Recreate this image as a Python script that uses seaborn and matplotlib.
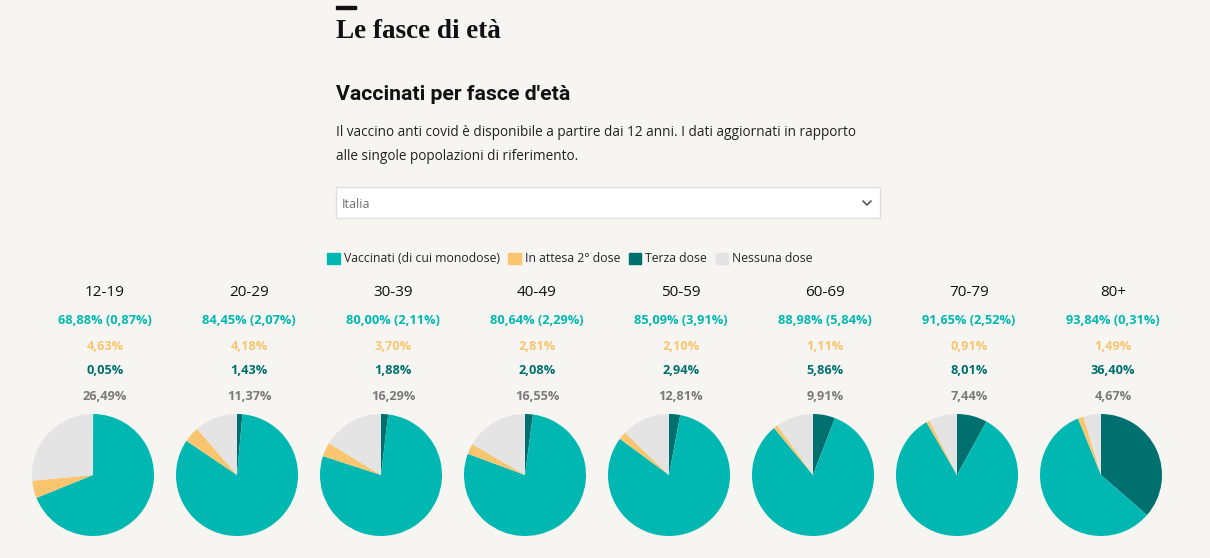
import matplotlib
matplotlib.use("Agg")
import matplotlib.pyplot as plt
import seaborn as sns
from matplotlib.patches import Rectangle, Patch
from matplotlib.lines import Line2D

# dati
fasce = ['12-19', '20-29', '30-39', '40-49', '50-59', '60-69', '70-79', '80+']
vaccinati = [68.88, 84.45, 80.00, 80.64, 85.09, 88.98, 91.65, 93.84]
monodose = [0.87, 2.07, 2.11, 2.29, 3.91, 5.84, 2.52, 0.31]
in_attesa = [4.63, 4.18, 3.70, 2.81, 2.10, 1.11, 0.91, 1.49]
terza_dose = [0.05, 1.43, 1.88, 2.08, 2.94, 5.86, 8.01, 36.40]
nessuna = [26.49, 11.37, 16.29, 16.55, 12.81, 9.91, 7.44, 4.67]

legend_labels = ['Vaccinati (di cui monodose)', 'In attesa 2° dose', 'Terza dose', 'Nessuna dose']
colori = {'vacc': '#00B8B1', 'attesa': '#F9C56E', 'terza': '#00706F', 'nessuna': '#E4E4E4'}
grigio_txt = '#7A7A7A'
bg = '#F6F5F2'

sns.set_theme(style='white')
plt.rcParams['font.family'] = ['Open Sans', 'DejaVu Sans']

W, H = 1210, 558
fig = plt.figure(figsize=(W / 100, H / 100), dpi=100, facecolor=bg)


def fx(x):
    return x / W


def fy(y):
    return 1 - y / H


def fmt(v):
    return f'{v:.2f}'.replace('.', ',') + '%'


# intestazione
fig.patches.append(Rectangle((fx(336), fy(9)), 20 / W, 3 / H, transform=fig.transFigure,
                             color='#111111', zorder=3))
fig.text(fx(336), fy(32), 'Le fasce di età', fontsize=19.5, fontweight='bold',
         family='Liberation Serif', color='#111111', va='center')
fig.text(fx(336), fy(94), "Vaccinati per fasce d'età", fontsize=15.3, fontweight='bold',
         family='Roboto', color='#111111', va='center')
fig.text(fx(336), fy(133), 'Il vaccino anti covid è disponibile a partire dai 12 anni. I dati aggiornati in rapporto',
         fontsize=9.8, color='#222222', va='center')
fig.text(fx(336), fy(156), 'alle singole popolazioni di riferimento.',
         fontsize=9.8, color='#222222', va='center')

# menu a tendina
fig.patches.append(Rectangle((fx(336), fy(218)), 544 / W, 31 / H, transform=fig.transFigure,
                             facecolor='white', edgecolor='#DEDEDE', linewidth=1, zorder=2))
fig.text(fx(342), fy(204), 'Italia', fontsize=9, color='#6E6E6E', va='center', zorder=3)
fig.lines.append(Line2D([fx(863), fx(867), fx(871)], [fy(201), fy(205), fy(201)],
                        transform=fig.transFigure, color='#555555', linewidth=1.2, zorder=3))

# legenda
handles = [Patch(color=colori[k]) for k in ['vacc', 'attesa', 'terza', 'nessuna']]
fig.legend(handles, legend_labels, loc='center', bbox_to_anchor=(fx(570), fy(259)), ncol=4,
           frameon=False, handlelength=1.0, handleheight=1.0, handletextpad=0.35,
           columnspacing=0.7, prop={'size': 8.8})

# torte
for i, fascia in enumerate(fasce):
    cx = 93 + 144 * i
    tx = cx + 12
    fig.text(fx(tx), fy(293), fascia, ha='center', va='center', fontsize=11, color='#111111')
    fig.text(fx(tx), fy(320), f'{fmt(vaccinati[i])} ({fmt(monodose[i])})', ha='center', va='center',
             fontsize=9.2, fontweight='bold', color=colori['vacc'])
    fig.text(fx(tx), fy(346), fmt(in_attesa[i]), ha='center', va='center',
             fontsize=9.2, fontweight='bold', color=colori['attesa'])
    fig.text(fx(tx), fy(371), fmt(terza_dose[i]), ha='center', va='center',
             fontsize=9.2, fontweight='bold', color=colori['terza'])
    fig.text(fx(tx), fy(396), fmt(nessuna[i]), ha='center', va='center',
             fontsize=9.2, fontweight='bold', color=grigio_txt)

    ax = fig.add_axes([fx(cx - 61), fy(536), 122 / W, 122 / H])
    ax.set_facecolor(bg)
    valori = [terza_dose[i], vaccinati[i] - terza_dose[i], in_attesa[i], nessuna[i]]
    ax.pie(valori, colors=[colori['terza'], colori['vacc'], colori['attesa'], colori['nessuna']],
           startangle=90, counterclock=False, wedgeprops={'linewidth': 0})
    ax.set_xlim(-1, 1)
    ax.set_ylim(-1, 1)
    ax.set_aspect('equal')
    ax.axis('off')

fig.savefig('out.png', dpi=100, facecolor=bg)
